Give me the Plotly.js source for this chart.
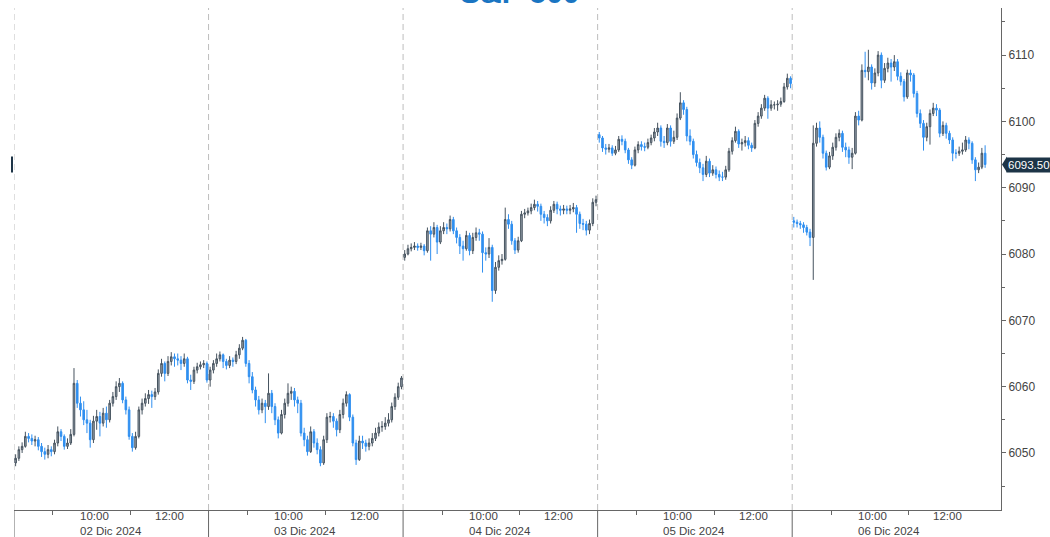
<!DOCTYPE html>
<html>
<head>
<meta charset="utf-8">
<script src="https://cdn.plot.ly/plotly-3.0.1.min.js"></script>
<style>html,body{margin:0;padding:0;background:#fff;}#chart{width:1050px;height:537px;}</style>
</head>
<body>
<div id="chart"></div>
<script>
// Sessions (local time 08:00 - 13:00), 5-minute bars
const dayLabels = ['02 Dic 2024','03 Dic 2024','04 Dic 2024','05 Dic 2024','06 Dic 2024'];
const hourTicks = ['10:00','12:00'];
const minorHours = ['09:00','11:00'];
const sessionStart = '08:00';
const sessionMinutes = 300;
const barMinutes = 5;
const lastPrice = 6093.50;
const titleText = 'S&P 500';

// Day 1 - 02 Dic 2024
const open1 = [6048.5,6049.2,6050.5,6051.0,6052.5,6052.2,6051.8,6052.0,6051.0,6050.2,6049.8,6050.5,6050.2,6051.5,6053.2,6052.5,6051.0,6051.5,6052.8,6060.5,6057.5,6056.5,6055.0,6054.5,6052.0,6054.8,6055.5,6054.5,6056.0,6055.0,6057.5,6058.5,6060.0,6060.5,6058.0,6056.5,6052.5,6050.8,6052.5,6056.5,6057.5,6058.2,6058.8,6058.5,6059.2,6062.0,6063.5,6062.0,6063.8,6064.5,6064.2,6064.0,6063.5,6064.2,6061.0,6060.8,6062.5,6063.0,6063.3,6063.5];
const high1 = [6049.8,6051.0,6051.6,6053.2,6053.0,6052.8,6052.6,6052.4,6051.5,6050.8,6051.2,6051.0,6052.0,6054.0,6053.6,6052.8,6052.2,6053.6,6062.8,6061.0,6058.5,6057.8,6056.5,6055.0,6055.6,6056.5,6056.2,6056.8,6057.0,6058.0,6059.2,6060.8,6061.3,6060.8,6058.5,6057.0,6053.0,6053.2,6057.0,6058.2,6059.0,6059.5,6059.4,6059.8,6062.6,6064.2,6063.8,6064.6,6065.2,6065.0,6065.0,6064.6,6065.0,6064.5,6061.8,6063.0,6063.6,6063.8,6064.0,6063.8];
const low1 = [6048.0,6048.8,6050.0,6050.8,6051.6,6051.2,6051.0,6050.4,6049.4,6049.0,6049.2,6049.5,6049.8,6051.0,6051.8,6050.5,6050.6,6051.2,6052.5,6056.8,6055.5,6054.2,6053.0,6050.8,6051.5,6053.5,6052.5,6054.0,6053.8,6054.6,6057.0,6058.0,6059.2,6057.5,6055.8,6052.0,6050.2,6050.5,6052.2,6055.8,6057.0,6057.4,6056.8,6058.0,6058.8,6061.5,6060.8,6061.6,6063.2,6063.0,6063.2,6062.5,6063.0,6060.5,6059.5,6060.4,6062.0,6062.6,6062.8,6060.6];
const close1 = [6049.2,6050.5,6051.0,6052.5,6052.2,6051.8,6052.0,6051.0,6050.2,6049.8,6050.5,6050.2,6051.5,6053.2,6052.5,6051.0,6051.5,6052.8,6060.5,6057.5,6056.5,6055.0,6054.5,6052.0,6054.8,6055.5,6054.5,6056.0,6055.0,6057.5,6058.5,6060.0,6060.5,6058.0,6056.5,6052.5,6050.8,6052.5,6056.5,6057.5,6058.2,6058.8,6058.5,6059.2,6062.0,6063.5,6062.0,6063.8,6064.5,6064.2,6064.0,6063.5,6064.2,6061.0,6060.8,6062.5,6063.0,6063.3,6063.5,6061.0];

// Day 2 - 03 Dic 2024
const open2 = [6061.0,6062.5,6063.5,6064.2,6064.8,6063.8,6063.2,6064.0,6063.8,6064.8,6065.8,6067.0,6063.5,6061.5,6059.5,6058.0,6056.5,6057.5,6057.0,6059.0,6057.0,6055.0,6053.0,6055.8,6057.5,6059.0,6059.3,6058.0,6057.5,6053.0,6052.0,6050.2,6053.2,6051.5,6050.5,6048.5,6052.0,6055.4,6055.5,6054.8,6053.5,6055.8,6057.5,6058.8,6055.4,6051.5,6049.0,6051.8,6051.5,6051.0,6051.5,6052.2,6053.0,6053.9,6054.0,6054.5,6055.0,6057.0,6058.4,6060.0];
const high2 = [6063.0,6064.0,6065.0,6065.3,6065.0,6064.2,6064.6,6064.4,6065.4,6066.4,6067.5,6067.2,6064.0,6062.2,6060.0,6058.6,6058.2,6058.0,6062.0,6059.5,6057.5,6055.5,6056.5,6058.2,6060.5,6060.0,6059.8,6058.5,6058.0,6053.8,6052.6,6054.0,6053.6,6052.2,6051.0,6052.6,6056.0,6056.2,6056.0,6055.2,6056.5,6058.2,6059.3,6059.0,6055.8,6052.0,6052.6,6052.6,6052.0,6052.2,6053.0,6053.8,6054.6,6054.8,6055.4,6056.0,6057.6,6059.0,6060.6,6061.6];
const low2 = [6060.0,6062.0,6063.0,6063.8,6062.8,6062.6,6062.8,6063.0,6063.4,6064.2,6065.5,6063.0,6060.5,6059.0,6057.0,6055.8,6056.0,6054.5,6056.5,6056.0,6054.2,6052.2,6052.8,6055.2,6057.0,6058.0,6057.0,6056.0,6052.5,6051.0,6049.6,6050.0,6050.8,6049.8,6048.0,6048.2,6051.5,6054.6,6053.8,6052.5,6053.0,6055.2,6057.0,6054.8,6051.0,6048.2,6048.8,6050.6,6050.2,6050.4,6051.0,6051.8,6052.5,6053.2,6053.5,6054.0,6054.6,6056.5,6058.0,6059.6];
const close2 = [6062.5,6063.5,6064.2,6064.8,6063.8,6063.2,6064.0,6063.8,6064.8,6065.8,6067.0,6063.5,6061.5,6059.5,6058.0,6056.5,6057.5,6057.0,6059.0,6057.0,6055.0,6053.0,6055.8,6057.5,6059.0,6059.3,6058.0,6057.5,6053.0,6052.0,6050.2,6053.2,6051.5,6050.5,6048.5,6052.0,6055.4,6055.5,6054.8,6053.5,6055.8,6057.5,6058.8,6055.4,6051.5,6049.0,6051.8,6051.5,6051.0,6051.5,6052.2,6053.0,6053.9,6054.0,6054.5,6055.0,6057.0,6058.4,6060.0,6061.3];

// Day 3 - 04 Dic 2024
const open3 = [6079.5,6080.0,6080.8,6081.0,6081.2,6081.0,6081.2,6080.5,6083.5,6083.0,6084.0,6081.8,6083.5,6084.0,6083.8,6085.2,6083.5,6082.5,6081.2,6080.8,6082.8,6080.5,6082.5,6083.2,6083.0,6080.2,6080.0,6081.0,6074.5,6078.0,6079.0,6079.2,6085.2,6084.5,6082.0,6080.6,6082.0,6086.0,6086.2,6086.5,6087.0,6087.5,6087.2,6086.0,6085.5,6085.0,6086.6,6087.5,6086.8,6086.6,6086.8,6086.6,6086.8,6087.0,6086.0,6084.6,6084.5,6083.6,6084.6,6087.8];
const high3 = [6080.6,6081.4,6081.6,6081.8,6081.6,6081.7,6081.5,6084.0,6084.2,6084.8,6084.4,6084.2,6084.8,6084.6,6085.8,6085.6,6084.0,6083.0,6082.0,6083.5,6083.2,6083.2,6084.0,6083.8,6083.4,6081.0,6082.4,6081.4,6078.8,6079.8,6080.0,6087.0,6086.0,6085.0,6082.4,6082.6,6086.5,6086.8,6087.0,6087.6,6088.2,6088.0,6087.6,6086.5,6086.0,6087.2,6088.0,6087.9,6087.3,6087.4,6087.3,6087.4,6087.7,6087.4,6086.4,6085.3,6085.0,6085.2,6088.4,6088.8];
const low3 = [6079.0,6079.8,6080.4,6080.6,6080.5,6080.6,6079.8,6080.2,6079.0,6082.5,6080.0,6081.5,6083.0,6083.0,6083.4,6083.0,6081.6,6080.0,6079.0,6080.5,6079.8,6080.0,6082.0,6082.0,6077.2,6079.0,6079.4,6072.8,6074.0,6077.5,6078.4,6079.0,6083.8,6081.4,6080.0,6080.2,6081.8,6085.4,6085.8,6086.0,6086.6,6086.4,6085.0,6084.6,6084.2,6084.6,6086.2,6086.0,6085.8,6086.0,6086.0,6086.0,6086.3,6083.2,6083.8,6083.6,6082.8,6083.0,6084.2,6087.2];
const close3 = [6080.0,6080.8,6081.0,6081.2,6081.0,6081.2,6080.5,6083.5,6083.0,6084.0,6081.8,6083.5,6084.0,6083.8,6085.2,6083.5,6082.5,6081.2,6080.8,6082.8,6080.5,6082.5,6083.2,6083.0,6080.2,6080.0,6081.0,6074.5,6078.0,6079.0,6079.2,6085.2,6084.5,6082.0,6080.6,6082.0,6086.0,6086.2,6086.5,6087.0,6087.5,6087.2,6086.0,6085.5,6085.0,6086.6,6087.5,6086.8,6086.6,6086.8,6086.6,6086.8,6087.0,6086.0,6084.6,6084.5,6083.6,6084.6,6087.8,6088.2];

// Day 4 - 05 Dic 2024
const open4 = [6098.0,6097.5,6096.0,6095.8,6096.0,6095.2,6095.7,6097.3,6097.0,6095.7,6094.2,6093.4,6095.7,6096.5,6096.2,6096.1,6096.8,6097.5,6098.4,6099.0,6097.0,6096.8,6099.0,6097.0,6097.6,6100.5,6102.8,6101.8,6097.8,6097.0,6095.0,6093.8,6093.0,6092.0,6094.0,6092.2,6092.7,6092.0,6091.6,6091.6,6092.7,6095.5,6097.1,6098.5,6096.6,6096.8,6097.1,6096.4,6096.0,6099.7,6100.8,6102.0,6103.5,6102.0,6102.5,6102.5,6102.6,6103.0,6105.2,6106.5];
const high4 = [6098.4,6097.8,6096.6,6096.6,6096.4,6096.3,6097.8,6097.9,6097.4,6096.0,6094.6,6096.2,6097.0,6097.0,6096.8,6097.4,6098.0,6099.0,6099.8,6099.4,6097.8,6099.6,6099.4,6098.6,6101.2,6104.4,6103.2,6102.2,6098.8,6097.4,6095.6,6094.4,6093.6,6094.8,6094.4,6093.4,6093.2,6092.6,6092.4,6093.3,6096.0,6097.6,6099.2,6098.8,6097.4,6097.8,6097.6,6096.8,6100.2,6101.4,6102.6,6104.0,6103.8,6103.2,6103.0,6103.2,6103.6,6105.8,6107.2,6106.8];
const low4 = [6096.8,6095.4,6095.0,6095.3,6094.8,6094.9,6095.4,6096.4,6095.2,6093.6,6092.8,6093.2,6095.2,6095.6,6095.5,6095.8,6096.4,6097.0,6097.8,6096.2,6096.0,6096.4,6096.2,6096.6,6097.2,6100.2,6101.0,6097.0,6096.4,6094.4,6093.2,6092.2,6091.0,6091.6,6091.6,6091.8,6091.4,6091.0,6091.0,6091.2,6092.4,6095.0,6096.8,6096.0,6095.6,6096.2,6095.8,6095.4,6095.8,6099.2,6100.4,6101.6,6100.4,6101.6,6101.8,6101.6,6102.2,6102.8,6104.8,6105.0];
const close4 = [6097.5,6096.0,6095.8,6096.0,6095.2,6095.7,6097.3,6097.0,6095.7,6094.2,6093.4,6095.7,6096.5,6096.2,6096.1,6096.8,6097.5,6098.4,6099.0,6097.0,6096.8,6099.0,6097.0,6097.6,6100.5,6102.8,6101.8,6097.8,6097.0,6095.0,6093.8,6093.0,6092.0,6094.0,6092.2,6092.7,6092.0,6091.6,6091.6,6092.7,6095.5,6097.1,6098.5,6096.6,6096.8,6097.1,6096.4,6096.0,6099.7,6100.8,6102.0,6103.5,6102.0,6102.5,6102.5,6102.6,6103.0,6105.2,6106.5,6105.7];

// Day 5 - 06 Dic 2024
const open5 = [6085.0,6084.8,6084.6,6084.4,6084.0,6083.3,6082.5,6096.7,6099.0,6097.6,6095.2,6093.1,6094.8,6096.1,6097.6,6098.2,6096.1,6095.7,6094.6,6095.2,6100.8,6100.2,6107.7,6107.5,6108.2,6105.8,6107.3,6110.0,6106.2,6108.0,6108.8,6108.2,6109.0,6106.8,6106.0,6103.7,6107.3,6107.0,6104.2,6101.2,6099.7,6097.6,6099.2,6101.2,6102.0,6101.7,6098.2,6099.4,6098.2,6097.2,6095.2,6095.2,6095.5,6095.7,6097.2,6096.7,6094.2,6092.7,6093.1,6095.2];
const high5 = [6085.6,6085.2,6085.0,6084.8,6084.4,6083.8,6099.4,6099.8,6100.0,6098.0,6095.6,6095.4,6096.8,6098.2,6098.8,6098.6,6096.8,6096.2,6096.0,6101.4,6101.6,6108.6,6110.5,6110.8,6108.6,6108.0,6110.6,6110.4,6108.8,6109.6,6109.4,6110.0,6109.4,6107.4,6106.4,6107.8,6107.8,6107.3,6104.6,6101.8,6100.2,6099.8,6101.8,6102.8,6102.6,6102.0,6100.0,6099.8,6098.6,6097.6,6095.8,6096.2,6096.8,6097.8,6097.6,6097.0,6094.6,6093.8,6096.0,6096.4];
const low5 = [6084.0,6084.0,6083.8,6083.2,6082.8,6081.2,6076.1,6096.2,6096.8,6094.4,6092.6,6092.8,6094.2,6095.6,6097.0,6095.4,6094.6,6093.6,6092.8,6095.0,6099.4,6100.0,6106.6,6106.2,6104.8,6105.2,6106.8,6105.0,6105.8,6107.4,6106.0,6107.6,6106.2,6105.4,6103.0,6103.4,6106.0,6103.6,6100.6,6099.0,6095.6,6097.0,6096.5,6100.8,6100.8,6097.6,6097.8,6097.4,6096.6,6094.0,6094.4,6094.8,6095.0,6095.4,6095.8,6093.6,6091.0,6092.2,6092.8,6093.0];
const close5 = [6084.8,6084.6,6084.4,6084.0,6083.3,6082.5,6096.7,6099.0,6097.6,6095.2,6093.1,6094.8,6096.1,6097.6,6098.2,6096.1,6095.7,6094.6,6095.2,6100.8,6100.2,6107.7,6107.5,6108.2,6105.8,6107.3,6110.0,6106.2,6108.0,6108.8,6108.2,6109.0,6106.8,6106.0,6103.7,6107.3,6107.0,6104.2,6101.2,6099.7,6097.6,6099.2,6101.2,6102.0,6101.7,6098.2,6099.4,6098.2,6097.2,6095.2,6095.2,6095.5,6095.7,6097.2,6096.7,6094.2,6092.7,6093.1,6095.2,6093.5];

// ---- build table for the library ----
const opens = [open1, open2, open3, open4, open5];
const highs = [high1, high2, high3, high4, high5];
const lows = [low1, low2, low3, low4, low5];
const closes = [close1, close2, close3, close4, close5];

function toMin(hhmm) { const p = hhmm.split(':'); return (+p[0]) * 60 + (+p[1]) - ((+sessionStart.split(':')[0]) * 60); }

const X = [], O = [], H = [], L = [], C = [], T = [];
for (let d = 0; d < dayLabels.length; d++) {
  for (let i = 0; i < closes[d].length; i++) {
    X.push(d * sessionMinutes + i * barMinutes + barMinutes / 2);
    O.push(opens[d][i]); H.push(highs[d][i]); L.push(lows[d][i]); C.push(closes[d][i]);
    const m = 8 * 60 + i * barMinutes;
    T.push(dayLabels[d] + ' ' + String(Math.floor(m / 60)).padStart(2, '0') + ':' + String(m % 60).padStart(2, '0'));
  }
}

const labelFont = {family: 'Liberation Sans, Arial, sans-serif', size: 12, color: '#444'};
const axisFont = {family: 'Liberation Sans, Arial, sans-serif', size: 11.5, color: '#444'};
const tickvals = [], minorvals = [];
const shapes = [], annotations = [];
for (let d = 0; d < dayLabels.length; d++) {
  hourTicks.forEach((h, k) => {
    const xv = d * sessionMinutes + toMin(h);
    tickvals.push(xv);
    if (k === 0) {
      // first tick of the day carries the date on a second line
      annotations.push({xref: 'x', yref: 'paper', x: xv, y: 0, xanchor: 'left', yanchor: 'top', xshift: -13, yshift: 1,
        align: 'left', borderpad: 0, text: h + '<br>' + dayLabels[d], showarrow: false, font: axisFont});
    } else {
      annotations.push({xref: 'x', yref: 'paper', x: xv, y: 0, xanchor: 'center', yanchor: 'top', yshift: 1,
        borderpad: 0, text: h, showarrow: false, font: axisFont});
    }
  });
  minorHours.forEach(h => minorvals.push(d * sessionMinutes + toMin(h)));
  shapes.push({type: 'line', xref: 'x', yref: 'paper', x0: d * sessionMinutes, x1: d * sessionMinutes, y0: 0, y1: 1,
    line: {color: '#bdbdbd', width: 1, dash: '6px,4px'}, layer: 'below'});
  shapes.push({type: 'line', xref: 'x', yref: 'paper', x0: d * sessionMinutes, x1: d * sessionMinutes, y0: -0.056, y1: 0,
    line: {color: '#666', width: 1}});
}

// last price label (right) and its arrow
annotations.push({xref: 'paper', yref: 'y', x: 1, y: lastPrice, xanchor: 'left', yanchor: 'middle', xshift: 5,
  text: lastPrice.toFixed(2), showarrow: false, bgcolor: '#1d3447', borderpad: 1,
  font: {family: 'Liberation Sans, Arial, sans-serif', size: 11.5, color: '#ffffff'}});
shapes.push({type: 'path', xref: 'paper', yref: 'y', xsizemode: 'pixel', ysizemode: 'pixel', xanchor: 1, yanchor: lastPrice,
  path: 'M 1 0 L 6 -8 L 6 8 Z', fillcolor: '#1d3447', line: {width: 0}});
// left cut-off price marker
shapes.push({type: 'rect', xref: 'paper', yref: 'y', xsizemode: 'pixel', ysizemode: 'pixel', xanchor: 0, yanchor: lastPrice,
  x0: -3, x1: -1, y0: -8, y1: 8, fillcolor: '#1d3447', line: {width: 0}});
// title (clipped at top edge like the reference)
annotations.push({xref: 'paper', yref: 'paper', x: 0.513, y: 1, xanchor: 'center', yanchor: 'bottom', yshift: -3,
  text: '<b>' + titleText + '</b>', showarrow: false,
  font: {family: 'Liberation Sans, Arial, sans-serif', size: 30, color: '#1a75c2'}});

const trace = {
  type: 'candlestick', x: X, open: O, high: H, low: L, close: C, text: T, hoverinfo: 'text',
  increasing: {line: {color: '#46535f', width: 1}, fillcolor: '#9aa4ae'},
  decreasing: {line: {color: '#2f8ff0', width: 1}, fillcolor: '#2f8ff0'},
  whiskerwidth: 0
};

const layout = {
  width: 1050, height: 537,
  margin: {l: 14, r: 49, t: 8, b: 27},
  paper_bgcolor: '#ffffff', plot_bgcolor: '#ffffff',
  showlegend: false,
  font: labelFont,
  xaxis: {
    type: 'linear', range: [0, 1522], rangeslider: {visible: false},
    showgrid: false, zeroline: false, showline: true, linecolor: '#666', linewidth: 1,
    tickmode: 'array', tickvals: tickvals, showticklabels: false, ticks: 'outside', ticklen: 0, tickcolor: '#666',
    minor: {tickmode: 'array', tickvals: minorvals, ticks: 'outside', ticklen: 4, tickcolor: '#666', showgrid: false},
    fixedrange: true
  },
  yaxis: {
    side: 'right', range: [6041.4, 6117.1],
    showgrid: false, zeroline: false, showline: true, linecolor: '#666', linewidth: 1,
    tickmode: 'linear', tick0: 6050, dtick: 10, ticks: 'outside', ticklen: 4, tickcolor: '#666',
    minor: {dtick: 5, ticks: 'outside', ticklen: 3, tickcolor: '#666', showgrid: false},
    tickfont: labelFont,
    fixedrange: true
  },
  shapes: shapes,
  annotations: annotations
};

Plotly.newPlot('chart', [trace], layout, {displayModeBar: false, staticPlot: true});
</script>
</body>
</html>
